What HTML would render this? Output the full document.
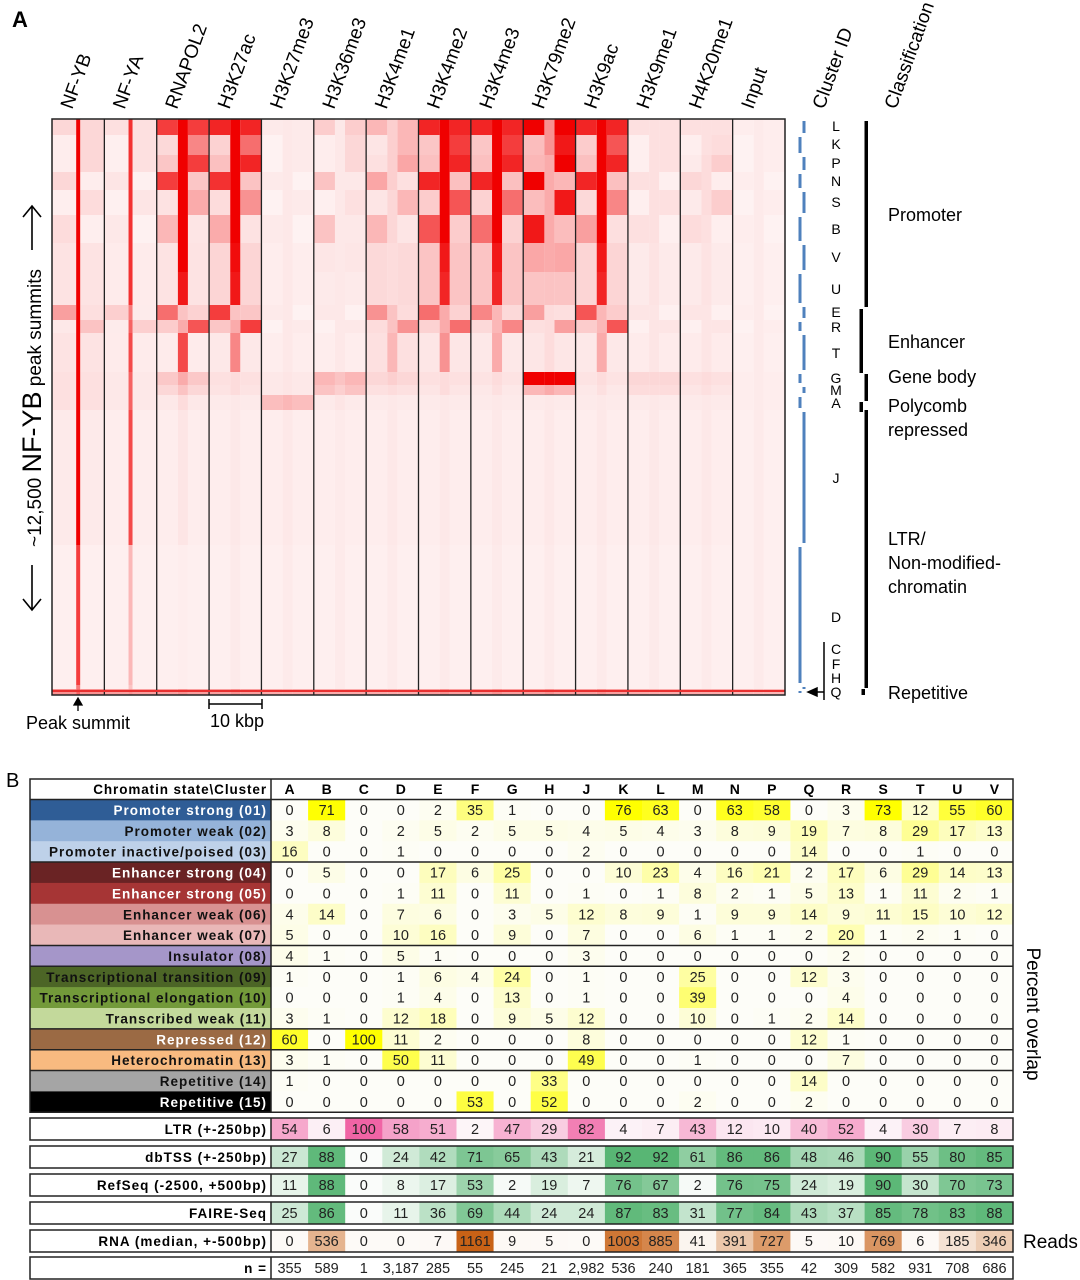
<!DOCTYPE html>
<html><head><meta charset="utf-8">
<style>
html,body{margin:0;padding:0;background:#fff;}
body{width:1080px;height:1280px;overflow:hidden;font-family:"Liberation Sans",Arial,sans-serif;}
svg{display:block;}
</style></head>
<body>
<svg id="fig" width="1080" height="1280" viewBox="0 0 1080 1280" xmlns="http://www.w3.org/2000/svg">
<text x="12" y="27" font-size="22" font-weight="bold">A</text>
<text x="6" y="787" font-size="20">B</text>
<g id="heat"></g>
<g id="table"></g>
</svg>
<script>
// ---------- Panel A data ----------
const tracks = ['NF-YB','NF-YA','RNAPOL2','H3K27ac','H3K27me3','H3K36me3','H3K4me1','H3K4me2','H3K4me3','H3K79me2','H3K9ac','H3K9me1','H4K20me1','Input'];
const clusters = ['L','K','P','N','S','B','V','U','E','R','T','G','M','A','J','D','CFH','Q'];
const clusterTop = [119,135,155,172,190,215,243,272,305,320,333,372,385,395,410,545,685,689];
const clusterDir = ['b','r','r','l','r','l','c','c','l','r','c','b','b','b','c','c','c','b'];
// center intensity per track (18 clusters)
const centerVals = [
 [1,1,1,1,1,1,1,1,1,1,1,1,1,1,1,.75,.5,.6],
 [.8,.8,.8,.8,.8,.8,.8,.8,.5,.6,.7,.6,.6,.6,.7,.25,.2,.4],
 [1,1,1,1,1,1,1,.9,.2,.3,.7,.3,.2,.1,.06,.03,.03,.4],
 [1,1,1,1,1,1,.95,.9,.2,.3,.45,.1,.1,.05,.05,.04,.04,.4],
 [.05,.05,.05,.05,.05,.05,.05,.05,.05,.05,.05,.06,.06,.25,.05,.04,.04,.3],
 [.05,.05,.05,.05,.05,.05,.05,.05,.05,.05,.05,.2,.15,.06,.04,.04,.04,.3],
 [.15,.15,.15,.15,.12,.12,.1,.1,.2,.2,.25,.15,.1,.05,.05,.04,.04,.3],
 [1,1,1,1,1,1,.9,.85,.3,.3,.4,.1,.1,.05,.05,.04,.04,.4],
 [1,1,1,1,1,1,.9,.85,.25,.25,.3,.1,.08,.05,.05,.04,.04,.4],
 [.4,.4,.3,.3,.3,.3,.3,.2,.1,.1,.1,1,.3,.05,.05,.04,.04,.4],
 [1,1,1,1,1,1,.9,.85,.25,.25,.3,.1,.08,.05,.05,.04,.04,.4],
 [.08,.08,.08,.08,.08,.08,.07,.07,.06,.06,.06,.12,.1,.05,.05,.04,.04,.3],
 [.08,.08,.1,.1,.1,.08,.07,.07,.06,.06,.06,.1,.08,.05,.05,.04,.04,.3],
 [.04,.04,.04,.04,.04,.04,.04,.04,.04,.04,.04,.04,.04,.04,.04,.04,.04,.25]
];
// flank intensity per track
const flankVals = [
 [.12,.12,.12,.12,.1,.1,.1,.1,.35,.2,.1,.08,.08,.08,.06,.03,.03,.4],
 [.08,.08,.08,.06,.06,.05,.05,.05,.15,.15,.05,.05,.05,.05,.04,.03,.03,.35],
 [.75,.45,.75,.75,.3,.25,.1,.1,.55,.65,.05,.18,.12,.05,.04,.03,.03,.35],
 [.85,.55,.85,.8,.4,.3,.18,.18,.75,.75,.07,.08,.07,.04,.04,.03,.03,.35],
 [.04,.04,.04,.04,.04,.04,.04,.04,.04,.04,.04,.05,.05,.22,.04,.03,.03,.3],
 [.16,.12,.12,.2,.08,.2,.08,.06,.05,.05,.04,.25,.2,.04,.04,.03,.03,.3],
 [.25,.25,.32,.32,.25,.25,.16,.16,.4,.4,.12,.12,.08,.04,.04,.03,.03,.3],
 [.85,.75,.85,.85,.65,.65,.28,.28,.55,.55,.08,.08,.06,.04,.04,.03,.03,.35],
 [.85,.75,.85,.85,.55,.55,.28,.28,.45,.45,.07,.07,.05,.04,.04,.03,.03,.35],
 [1,.9,1,1,.9,.9,.45,.28,.35,.35,.08,1,.25,.04,.04,.03,.03,.35],
 [.85,.65,.85,.85,.45,.35,.18,.18,.65,.65,.07,.07,.05,.04,.04,.03,.03,.35],
 [.08,.08,.08,.08,.08,.08,.06,.06,.06,.06,.05,.12,.1,.04,.04,.03,.03,.3],
 [.08,.1,.16,.12,.16,.1,.06,.06,.06,.06,.05,.08,.06,.04,.04,.03,.03,.3],
 [.03,.03,.03,.03,.03,.03,.03,.03,.03,.03,.03,.03,.03,.03,.03,.03,.03,.25]
];
const clusterLetters = ['L','K','P','N','S','B','V','U','E','R','T','G','M','A','J','D','C','F','H','Q'];
const letterY = [126,144,163,181,202,229,257,289,312,327,353,378,390,403,478,617,649,664,678,692];
const classNames = [['Promoter'],['Enhancer'],['Gene body'],['Polycomb','repressed'],['LTR/','Non-modified-','chromatin'],['Repetitive']];
const classLabelY = [221,348,383,412,545,699];

// ---------- Panel B data ----------
const colLabels = ['A','B','C','D','E','F','G','H','J','K','L','M','N','P','Q','R','S','T','U','V'];
const stateNames = ['Promoter strong (01)','Promoter weak (02)','Promoter inactive/poised (03)','Enhancer strong (04)','Enhancer strong (05)','Enhancer weak (06)','Enhancer weak (07)','Insulator (08)','Transcriptional transition (09)','Transcriptional elongation (10)','Transcribed weak (11)','Repressed (12)','Heterochromatin (13)','Repetitive (14)','Repetitive (15)'];
const stateFill = ['#2f5d96','#95b3d9','#bed1e9','#6a2324','#a63535','#d89191','#e9b8b8','#a596c9','#4c6526','#739a3a','#c3d99b','#9b6a44','#f8ba80','#a5a5a5','#000000'];
const stateText = ['#fff','#111','#111','#fff','#fff','#111','#111','#111','#111','#111','#111','#fff','#111','#111','#fff'];
const overlap = [
 [0,71,0,0,2,35,1,0,0,76,63,0,63,58,0,3,73,12,55,60],
 [3,8,0,2,5,2,5,5,4,5,4,3,8,9,19,7,8,29,17,13],
 [16,0,0,1,0,0,0,0,2,0,0,0,0,0,14,0,0,1,0,0],
 [0,5,0,0,17,6,25,0,0,10,23,4,16,21,2,17,6,29,14,13],
 [0,0,0,1,11,0,11,0,1,0,1,8,2,1,5,13,1,11,2,1],
 [4,14,0,7,6,0,3,5,12,8,9,1,9,9,14,9,11,15,10,12],
 [5,0,0,10,16,0,9,0,7,0,0,6,1,1,2,20,1,2,1,0],
 [4,1,0,5,1,0,0,0,3,0,0,0,0,0,0,2,0,0,0,0],
 [1,0,0,1,6,4,24,0,1,0,0,25,0,0,12,3,0,0,0,0],
 [0,0,0,1,4,0,13,0,1,0,0,39,0,0,0,4,0,0,0,0],
 [3,1,0,12,18,0,9,5,12,0,0,10,0,1,2,14,0,0,0,0],
 [60,0,100,11,2,0,0,0,8,0,0,0,0,0,12,1,0,0,0,0],
 [3,1,0,50,11,0,0,0,49,0,0,1,0,0,0,7,0,0,0,0],
 [1,0,0,0,0,0,0,33,0,0,0,0,0,0,14,0,0,0,0,0],
 [0,0,0,0,0,53,0,52,0,0,0,2,0,0,2,0,0,0,0,0]
];
const ltr = [54,6,100,58,51,2,47,29,82,4,7,43,12,10,40,52,4,30,7,8];
const dbtss = [27,88,0,24,42,71,65,43,21,92,92,61,86,86,48,46,90,55,80,85];
const refseq = [11,88,0,8,17,53,2,19,7,76,67,2,76,75,24,19,90,30,70,73];
const faire = [25,86,0,11,36,69,44,24,24,87,83,31,77,84,43,37,85,78,83,88];
const rna = [0,536,0,0,7,1161,9,5,0,1003,885,41,391,727,5,10,769,6,185,346];
const nCounts = ['355','589','1','3,187','285','55','245','21','2,982','536','240','181','365','355','42','309','582','931','708','686'];

const NS='http://www.w3.org/2000/svg';
function mk(tag, attrs, parent){const e=document.createElementNS(NS,tag);for(const k in attrs)e.setAttribute(k,attrs[k]);parent.appendChild(e);return e;}
function mix(a,b,t){t=Math.max(0,Math.min(1,t));return 'rgb('+a.map((v,i)=>Math.round(v+(b[i]-v)*t)).join(',')+')';}

// ---------- Heatmap ----------
const heat=document.getElementById('heat');
const HX0=52,HX1=785,HY0=119,HY1=695;
const cw=(HX1-HX0)/tracks.length;
const bg=[254,244,244], red=[240,0,0];
const xTrack=i=>HX0+i*cw;
const yClusterTop=j=>clusterTop[j];
const yClusterBot=j=>j+1<clusterTop.length?clusterTop[j+1]:HY1;
mk('rect',{x:HX0,y:HY0,width:HX1-HX0,height:HY1-HY0,fill:mix([255,255,255],bg,1)},heat);
tracks.forEach((t,i)=>{
  const g=mk('g',{},heat);
  
  
  const x0=xTrack(i), cx=x0+cw/2;
  const half=(i<2)?2:5;
  clusters.forEach((c,j)=>{
    const y0=yClusterTop(j), h=yClusterBot(j)-y0;
    let fl=flankVals[i][j], fr=flankVals[i][j];
    const d=clusterDir[j];
    if(d==='l') fr*=0.25; else if(d==='r') fl*=0.25; else if(d==='c'){fl*=0.7;fr*=0.7;}
    const wl=(cx-half)-x0;
    const r1=mk('rect',{x:x0,y:y0,width:wl,height:h,fill:mix(bg,red,fl)},g);
    
    
    const r2=mk('rect',{x:cx+half,y:y0,width:x0+cw-(cx+half),height:h,fill:mix(bg,red,fr)},g);
    
    
    const r3=mk('rect',{x:cx-half,y:y0,width:half*2,height:h,fill:mix(bg,red,centerVals[i][j])},g);
    
    
  });
  const lbl=mk('text',{x:0,y:0,'font-size':19,transform:'translate('+(cx-6)+',110) rotate(-70)'},g);
  lbl.textContent=t;
  
  
  if(i>0){const l=mk('line',{x1:x0,y1:HY0,x2:x0,y2:HY1,stroke:'#222','stroke-width':1.3},heat);
    
    }
});
// thin red summit line at bottom
const bl=mk('line',{x1:HX0,y1:691,x2:HX1,y2:691,stroke:'#e83030','stroke-width':2},heat);


const fr=mk('rect',{x:HX0,y:HY0,width:HX1-HX0,height:HY1-HY0,fill:'none',stroke:'#222','stroke-width':1.5},heat);


// header labels
[['Cluster ID',846],['Classification',918]].forEach(([s,x])=>{
  const e=mk('text',{x:0,y:0,'font-size':19,transform:'translate('+(x-22)+',110) rotate(-70)'},heat);
  e.textContent=s;
  
  
});
// cluster brackets
clusters.forEach((c,j)=>{
  const y0=yClusterTop(j)+2, y1=yClusterBot(j)-2;
  const x=(j%2===0)?804:800;
  const b=mk('line',{x1:x,y1:y0,x2:x,y2:Math.max(y1,y0+2),stroke:'#4f81bd','stroke-width':3},heat);
  
  
});
clusterLetters.forEach((s,k)=>{
  const e=mk('text',{x:836,y:letterY[k]+5,'font-size':14,'text-anchor':'middle'},heat);
  e.textContent=s;
  
  
});
const ql=mk('line',{x1:824,y1:642,x2:824,y2:700,stroke:'#000','stroke-width':1.5},heat);


const qa=mk('path',{d:'M808 692 L817 688 L817 696 Z M816 692 L824 692',fill:'#000',stroke:'#000','stroke-width':1.5},heat);


// classification bars
[[866,121,307],[861,309,373],[866,374,401],[861,402,412],[866,410,688],[863,689,695]].forEach((b,k)=>{
  const e=mk('rect',{x:b[0]-1.5,y:b[1],width:3.5,height:b[2]-b[1],fill:'#000'},heat);
  
  
});
classNames.forEach((lines,k)=>{
  lines.forEach((s,m)=>{
    const e=mk('text',{x:888,y:classLabelY[k]+m*24,'font-size':18},heat);
    e.textContent=s;
    
    
  });
});
// left annotation
const yl=mk('text',{x:0,y:0,'text-anchor':'middle',transform:'translate(41,408) rotate(-90)'},heat);
yl.innerHTML='<tspan font-size="19">~12,500 </tspan><tspan font-size="27">NF-YB</tspan><tspan font-size="19"> peak summits</tspan>';


const ua=mk('path',{d:'M32 250 L32 206 M23 217 L32 206 L41 217',fill:'none',stroke:'#000','stroke-width':1.6},heat);


const da=mk('path',{d:'M32 565 L32 610 M23 599 L32 610 L41 599',fill:'none',stroke:'#000','stroke-width':1.6},heat);


const pa=mk('path',{d:'M78 711 L78 702 M74 705 L78 698 L82 705 Z',fill:'#000',stroke:'#000','stroke-width':1.3},heat);


const pt=mk('text',{x:78,y:729,'font-size':18,'text-anchor':'middle'},heat);
pt.textContent='Peak summit';


const sb=mk('path',{d:'M209 704 L262 704 M209 699 L209 709 M262 699 L262 709',fill:'none',stroke:'#000','stroke-width':1.5},heat);


const st=mk('text',{x:237,y:727,'font-size':18,'text-anchor':'middle'},heat);
st.textContent='10 kbp';



// ---------- Table ----------
const tb=document.getElementById('table');
const TX0=30,TL=271,TX1=1013;
const dw=(TX1-TL)/colLabels.length;
const xCol=k=>TL+k*dw;
const RH=20.85, RY0=799.5;
const yRow=i=>RY0+i*RH;
const yellowC=v=>mix([253,253,248],[255,255,0],v/72);
const pinkC=v=>mix([253,248,250],[240,100,165],v/100);
const greenC=v=>mix([250,252,250],[88,182,116],v/92);
const orangeC=v=>mix([253,250,247],[200,98,22],v/1161);
// header
const hl=mk('text',{x:TL-4,y:794,'font-size':13.5,'font-weight':'bold','text-anchor':'end','letter-spacing':'0.9'},tb);
hl.textContent='Chromatin state\\Cluster';


colLabels.forEach((c,k)=>{
  const e=mk('text',{x:xCol(k)+dw/2,y:794,'font-size':14,'font-weight':'bold','text-anchor':'middle'},tb);
  e.textContent=c;
  
  
});
overlap.forEach((row,i)=>{
  const y=yRow(i);
  const lc=mk('rect',{x:TX0,y:y,width:TL-TX0,height:RH+0.3,fill:stateFill[i]},tb);
  
  
  const lt=mk('text',{x:TL-4,y:y+15.5,'font-size':13.5,'font-weight':'bold','text-anchor':'end',fill:stateText[i],'letter-spacing':'1'},tb);
  lt.textContent=stateNames[i];
  
  
  row.forEach((v,k)=>{
    const r=mk('rect',{x:xCol(k),y:y,width:dw+0.3,height:RH+0.3,fill:yellowC(v)},tb);
    
    
    const t=mk('text',{x:xCol(k)+dw/2,y:y+15.5,'font-size':14.5,'text-anchor':'middle',fill:'#222'},tb);
    t.textContent=v;
    
    
  });
});
[3,7,8,11,12,13].forEach(i=>{
  const l=mk('line',{x1:TX0,y1:yRow(i),x2:TX1,y2:yRow(i),stroke:'#222','stroke-width':1.5},tb);
  
  
});
const ob=mk('rect',{x:TX0,y:779,width:TX1-TX0,height:yRow(15)-779,fill:'none',stroke:'#222','stroke-width':1.5},tb);


const hsep=mk('line',{x1:TX0,y1:RY0,x2:TX1,y2:RY0,stroke:'#222','stroke-width':1.5},tb);


const vsep=mk('line',{x1:TL,y1:779,x2:TL,y2:yRow(15),stroke:'#222','stroke-width':1.5},tb);



// extra rows
const extra=[['LTR (+-250bp)',ltr,pinkC,1118,'ltr-row'],['dbTSS (+-250bp)',dbtss,greenC,1146,'dbtss-row'],['RefSeq (-2500, +500bp)',refseq,greenC,1174,'refseq-row'],['FAIRE-Seq',faire,greenC,1202,'faire-row'],['RNA (median, +-500bp)',rna,orangeC,1230,'rna-row'],['n =',nCounts,null,1257,'n-row']];
extra.forEach(([name,vals,cf,y,dn])=>{
  const h=22;
  const g=mk('g',{},tb);
  
  
  vals.forEach((v,k)=>{
    if(cf){const r=mk('rect',{x:xCol(k),y:y,width:dw+0.3,height:h,fill:cf(v)},g);
      
      }
    const t=mk('text',{x:xCol(k)+dw/2,y:y+16,'font-size':14.5,'text-anchor':'middle',fill:'#222'},g);
    t.textContent=v;
    
    
  });
  const lt=mk('text',{x:TL-4,y:y+16,'font-size':13.5,'font-weight':'bold','text-anchor':'end','letter-spacing':'1'},g);
  lt.textContent=name;
  
  
  const b=mk('rect',{x:TX0,y:y,width:TX1-TX0,height:h,fill:'none',stroke:'#222','stroke-width':1.5},g);
  
  
  const v=mk('line',{x1:TL,y1:y,x2:TL,y2:y+h,stroke:'#222','stroke-width':1.5},g);
  
  
});
const po=mk('text',{x:0,y:0,'font-size':19,'text-anchor':'middle',transform:'translate(1027,1014) rotate(90)'},tb);
po.textContent='Percent overlap';


const rd=mk('text',{x:1023,y:1248,'font-size':19},tb);
rd.textContent='Reads';


</script>
</body></html>
